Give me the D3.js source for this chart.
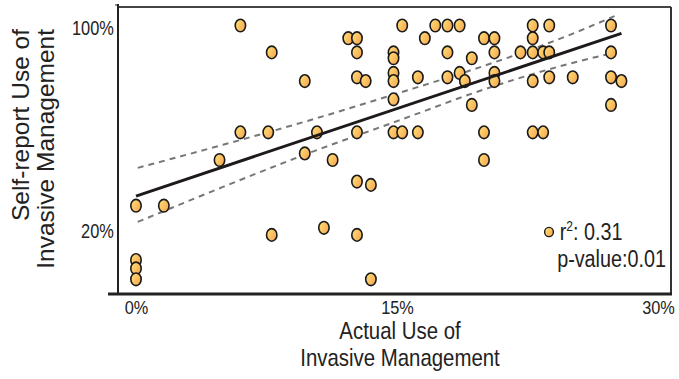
<!DOCTYPE html>
<html>
<head>
<meta charset="utf-8">
<script src="https://cdn.jsdelivr.net/npm/d3@7"></script>
<style>
  body { margin: 0; background: #fff; }
  svg text { font-family: "Liberation Sans", Arial, sans-serif; fill: #222; }
</style>
</head>
<body>
<div id="chart"></div>
<script>
// canvas
const width = 679,
  height = 379

// data (percent)
const actualUse = [0, 1.6, 0, 0, 0, 4.8, 6.0, 7.8, 6.0, 7.6, 7.8, 9.7, 9.7, 10.4, 10.8, 11.3,
  12.2, 12.7, 12.7, 12.7, 13.2, 12.7, 12.7, 13.5, 12.7, 13.5,
  14.8, 14.8, 14.8, 14.8, 14.8, 14.8, 15.3, 15.3, 16.2, 16.2, 16.6, 17.2, 17.9, 18.6,
  17.9, 17.9, 18.6, 18.9, 19.3, 19.3, 20.0, 20.6, 20.6, 20.6, 20.6, 20.0, 20.0,
  22.1, 22.8, 22.8, 22.8, 23.4, 23.75, 23.75, 22.8, 23.75, 25.1,
  27.3, 27.3, 27.3, 27.9, 27.3, 22.8, 23.4]
const selfReport = [29.0, 29.0, 7.6, 4.3, 0, 47.0, 100, 89.4, 57.9, 57.9, 17.5, 78.1, 49.6, 57.9, 20.3, 47.0,
  95.0, 95.0, 89.4, 79.6, 78.1, 57.9, 38.5, 37.2, 17.5, 0,
  89.4, 87.1, 81.3, 78.1, 70.9, 57.9, 57.9, 100, 79.6, 57.9, 95.0, 100, 100, 100,
  89.4, 79.6, 81.3, 78.1, 87.1, 68.7, 95.0, 95.0, 89.4, 81.3, 78.1, 57.9, 47.0,
  89.4, 100, 95.0, 89.4, 89.4, 89.4, 100, 78.1, 79.6, 79.6,
  100, 89.4, 79.6, 78.1, 68.7, 57.9, 57.9]

// regression line and confidence band
const fitX = [0, 27.9]
const fitY = [32.8, 96.9]
const bandX = [0.1, 5, 10, 15, 20, 25, 27.5]
const bandUpper = [43.9, 53.0, 62.7, 73.2, 84.1, 96.5, 103.7]
const bandLower = [22.6, 36.4, 49.9, 62.3, 74.8, 85.1, 89.3]

// ticks
const xTicks = [0, 15, 30]
const yTicks = [20, 100]
const rSquared = '0.31'
const pValue = '0.01'

let svg = d3.select('#chart')
  .append('svg')
  .attr('width', width)
  .attr('height', height)

const grad = svg.append('defs').append('linearGradient')
  .attr('id', 'dotFill')
  .attr('x1', 0).attr('y1', 0.2)
  .attr('x2', 1).attr('y2', 0.8)
grad.append('stop').attr('offset', '0%').attr('stop-color', '#ffde74')
grad.append('stop').attr('offset', '100%').attr('stop-color', '#f6a652')

const xScale = d3.scaleLinear()
  .domain([0, 30])
  .range([136, 658])

const yScale = d3.scaleLinear()
  .domain([0, 100])
  .range([279.3, 25.5])

const frameLeft = 118, frameRight = 671, frameTop = 7, frameBottom = 294

// frame
svg.append('line')
  .attr('x1', frameLeft).attr('x2', frameRight).attr('y1', frameTop).attr('y2', frameTop)
  .attr('stroke', '#444').attr('stroke-width', 2)
svg.append('line')
  .attr('x1', frameRight).attr('x2', frameRight).attr('y1', frameTop).attr('y2', frameBottom)
  .attr('stroke', '#333').attr('stroke-width', 2)
svg.append('line')
  .attr('x1', frameLeft).attr('x2', frameLeft).attr('y1', 4).attr('y2', frameBottom)
  .attr('stroke', '#222').attr('stroke-width', 2)
svg.append('line')
  .attr('x1', 115).attr('x2', frameLeft).attr('y1', 5).attr('y2', 5)
  .attr('stroke', '#222').attr('stroke-width', 1)
svg.append('line')
  .attr('x1', 108).attr('x2', frameRight + 1).attr('y1', frameBottom).attr('y2', frameBottom)
  .attr('stroke', '#222').attr('stroke-width', 3)

// axes (labels only), the source font is a narrow sans so squeeze it
const xAxis = d3.axisBottom(xScale)
  .tickValues(xTicks)
  .tickSize(0)
  .tickPadding(7)
  .tickFormat(d => d + '%')

const gx = svg.append('g')
  .attr('transform', `translate(0, ${frameBottom})`)
  .call(xAxis)
gx.select('.domain').remove()
gx.selectAll('text')
  .style('font-size', '19px')
  .attr('fill', '#222')
  .attr('transform', 'scale(0.86,1)')

const yAxis = d3.axisLeft(yScale)
  .tickValues(yTicks)
  .tickSize(0)
  .tickPadding(5)
  .tickFormat(d => d + '%')

const gy = svg.append('g')
  .attr('transform', `translate(${frameLeft}, 0)`)
  .call(yAxis)
gy.select('.domain').remove()
gy.selectAll('text')
  .style('font-size', '20px')
  .attr('dy', '0.45em')
  .attr('fill', '#222')
  .attr('transform', 'scale(0.82,1)')

// axis titles
const xTitle = svg.append('text')
  .attr('transform', 'translate(400, 0) scale(0.85,1)')
  .attr('text-anchor', 'middle')
  .style('font-size', '24px')
xTitle.append('tspan').attr('x', 0).attr('y', 339).text('Actual Use of')
xTitle.append('tspan').attr('x', 0).attr('y', 366).text('Invasive Management')

const yTitle = svg.append('text')
  .attr('transform', 'translate(0, 29) rotate(-90)')
  .attr('text-anchor', 'end')
  .style('font-size', '24.5px')
yTitle.append('tspan').attr('x', 0).attr('y', 29).text('Self-report Use of')
yTitle.append('tspan').attr('x', 0).attr('y', 54).text('Invasive Management')

// confidence band
const bandLine = (vals) => d3.line()
  .x((d, i) => xScale(bandX[i]))
  .y((d) => yScale(d))
  .curve(d3.curveMonotoneX)(vals)

svg.selectAll('path.band')
  .data([bandUpper, bandLower])
  .enter()
  .append('path')
  .attr('class', 'band')
  .attr('d', bandLine)
  .attr('fill', 'none')
  .attr('stroke', '#777')
  .attr('stroke-width', 2)
  .attr('stroke-dasharray', '6,5')

// points
svg.selectAll('ellipse.dot')
  .data(actualUse)
  .enter()
  .append('ellipse')
  .attr('class', 'dot')
  .attr('cx', (d) => xScale(d))
  .attr('cy', (d, i) => yScale(selfReport[i]))
  .attr('rx', 5.2)
  .attr('ry', 6.3)
  .attr('fill', 'url(#dotFill)')
  .attr('stroke', '#1a1a1a')
  .attr('stroke-width', 1.6)

// regression line
svg.append('path')
  .datum(fitX)
  .attr('d', d3.line()
    .x((d) => xScale(d))
    .y((d, i) => yScale(fitY[i])))
  .attr('fill', 'none')
  .attr('stroke', '#1e1a1a')
  .attr('stroke-width', 3)

// stats box
svg.append('ellipse')
  .attr('cx', 549).attr('cy', 232)
  .attr('rx', 4.4).attr('ry', 4.6)
  .attr('fill', 'url(#dotFill)')
  .attr('stroke', '#1a1a1a')
  .attr('stroke-width', 1.4)

const stats = svg.append('text')
  .attr('transform', 'translate(558, 0) scale(0.86,1)')
  .style('font-size', '23px')
const r2 = stats.append('tspan').attr('x', 2).attr('y', 240)
r2.append('tspan').text('r')
r2.append('tspan').attr('dy', -9).style('font-size', '14px').text('2')
r2.append('tspan').attr('dy', 9).text(': ' + rSquared)
stats.append('tspan').attr('x', -1).attr('y', 267).text('p-value:' + pValue)
</script>
</body>
</html>
